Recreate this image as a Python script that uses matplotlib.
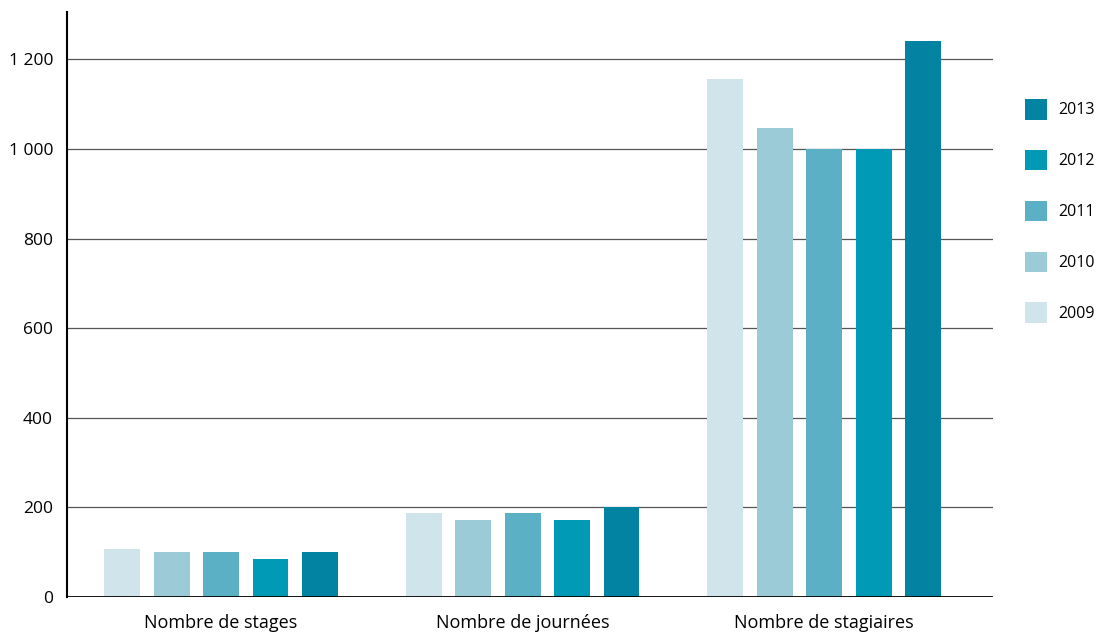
import matplotlib
matplotlib.use("Agg")
import matplotlib.pyplot as plt
import numpy as np

plt.rcParams['font.family'] = ['Open Sans', 'DejaVu Sans']

categories = ["Nombre de stages", "Nombre de journées", "Nombre de stagiaires"]
years = ["2009", "2010", "2011", "2012", "2013"]
values = {
    "2009": [108, 188, 1157],
    "2010": [100, 172, 1046],
    "2011": [100, 188, 1000],
    "2012": [84, 172, 1000],
    "2013": [100, 200, 1241],
}
colors = ["#cfe4eb", "#9ccbd8", "#5cb0c5", "#0099b6", "#0383a2"]
yticks = [0, 200, 400, 600, 800, 1000, 1200]
ytick_labels = ["0", "200", "400", "600", "800", "1 000", "1 200"]

fig = plt.figure(figsize=(10.97, 6.41), dpi=100)
ax = fig.add_axes([67/1097, 44/641, (993-67)/1097, (597-12)/641])

x = np.arange(len(categories))
pitch = 0.164
width = 0.119
handles = []
for i, (yr, c) in enumerate(zip(years, colors)):
    b = ax.bar(x + (i - 2) * pitch, values[yr], width=width, color=c, label=yr, zorder=3)
    handles.append(b)

ax.set_xlim(-0.511, 2.56)
ax.set_ylim(0, 1306)
ax.set_yticks(yticks)
ax.set_yticklabels(ytick_labels, fontsize=12.5)
ax.set_xticks(x)
ax.set_xticklabels(categories, fontsize=13)
ax.tick_params(axis='y', length=0, pad=10)
ax.tick_params(axis='x', length=0, pad=12)
for t in yticks[1:]:
    ax.axhline(t, color="#555555", linewidth=0.9, zorder=1)
ax.axhline(0, color="black", linewidth=2, zorder=4)
for s in ["top", "right", "bottom"]:
    ax.spines[s].set_visible(False)
ax.spines["left"].set_linewidth(1.5)
ax.spines["left"].set_color("black")

leg = ax.legend(handles[::-1], years[::-1], loc="upper left",
                bbox_to_anchor=(1025/1097, 1 - 99/641), bbox_transform=fig.transFigure,
                frameon=False, fontsize=11.5, handlelength=1.375, handleheight=1.6,
                labelspacing=1.9, handletextpad=0.7, borderpad=0, borderaxespad=0)

fig.savefig("out.png", dpi=100)
